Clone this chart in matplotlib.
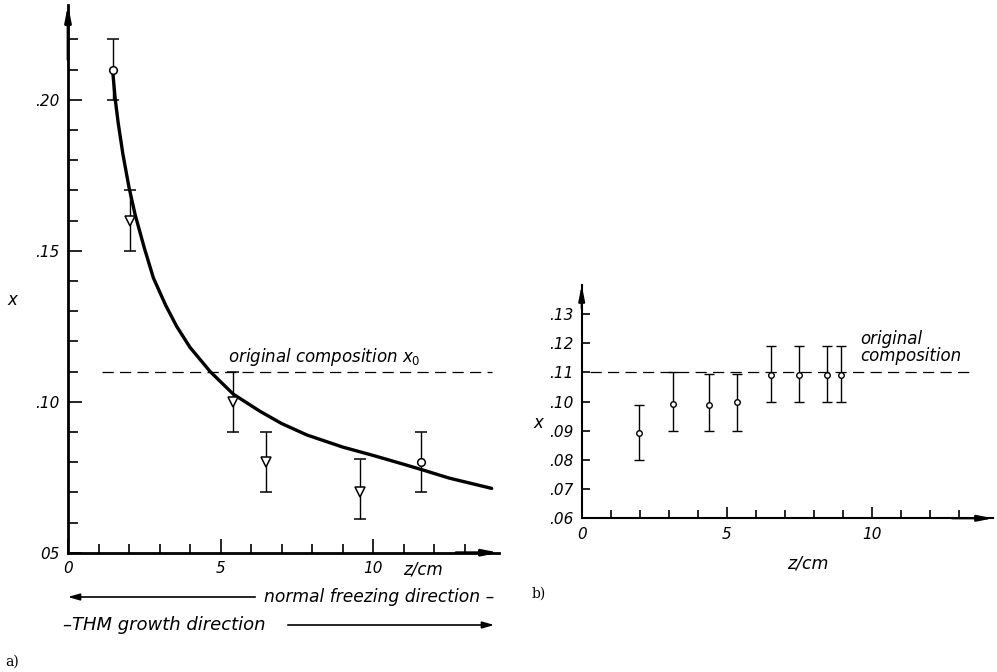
import matplotlib
matplotlib.use("Agg")
import matplotlib.pyplot as plt
from matplotlib.ticker import MultipleLocator, FixedLocator

# panel a) measured points (z in cm, x = mole fraction)
circ_z = [1.47, 11.57]
circ_x = [0.210, 0.080]
circ_lo = [0.200, 0.070]
circ_hi = [0.220, 0.090]

tri_z = [2.03, 5.41, 6.49, 9.57]
tri_x = [0.160, 0.100, 0.080, 0.070]
tri_lo = [0.150, 0.090, 0.070, 0.061]
tri_hi = [0.170, 0.110, 0.090, 0.081]

# fitted curve
curve_z = [1.47, 1.55, 1.65, 1.80, 2.00, 2.20, 2.50, 2.80, 3.20, 3.56, 4.00, 4.66,
           5.42, 6.30, 7.00, 7.83, 9.00, 10.01, 11.00, 11.60, 12.50, 13.89]
curve_x = [0.209, 0.200, 0.192, 0.182, 0.171, 0.162, 0.151, 0.141, 0.132, 0.125, 0.118, 0.110,
           0.1025, 0.0968, 0.0928, 0.0890, 0.0850, 0.0822, 0.0793, 0.0775, 0.0747, 0.0713]

x0 = 0.11

# panel b) measured points
b_z = [1.99, 3.16, 4.39, 5.37, 6.52, 7.49, 8.45, 8.93]
b_x = [0.0892, 0.0992, 0.0990, 0.1000, 0.1090, 0.1090, 0.1092, 0.1090]
b_lo = [0.080, 0.090, 0.090, 0.090, 0.100, 0.100, 0.100, 0.100]
b_hi = [0.099, 0.110, 0.1095, 0.1095, 0.119, 0.119, 0.119, 0.119]

a_yticks = [0.05, 0.10, 0.15, 0.20]
a_ylabels = ["05", ".10", ".15", ".20"]
a_yminor = [0.06, 0.07, 0.08, 0.09, 0.11, 0.12, 0.13, 0.14, 0.16, 0.17, 0.18, 0.19, 0.21, 0.22]
b_yticks = [0.06, 0.07, 0.08, 0.09, 0.10, 0.11, 0.12, 0.13]
b_ylabels = [".06", ".07", ".08", ".09", ".10", ".11", ".12", ".13"]
xticks = [0, 5, 10]
xlabels = ["0", "5", "10"]

W, H = 997, 672
fig = plt.figure(figsize=(W / 100, H / 100), dpi=100)

ital = dict(style="italic", family="DejaVu Sans")


def setup_axes(ax, lw, ymaj, ymin, xmaj, xmin):
    for s in ["top", "right"]:
        ax.spines[s].set_visible(False)
    for s in ["left", "bottom"]:
        ax.spines[s].set_linewidth(lw)
    ax.tick_params(which="both", direction="in", width=1.2)
    ax.tick_params(which="major", pad=6)
    ax.tick_params(axis="y", which="major", length=ymaj)
    ax.tick_params(axis="y", which="minor", length=ymin)
    ax.tick_params(axis="x", which="major", length=xmaj)
    ax.tick_params(axis="x", which="minor", length=xmin)
    ax.xaxis.set_minor_locator(FixedLocator(range(1, 14)))
    # axis arrows
    ax.annotate("", xy=(0, 1.0), xytext=(0, 0.9), xycoords="axes fraction",
                arrowprops=dict(arrowstyle="-|>,head_length=0.9,head_width=0.18",
                                color="k", lw=lw, shrinkA=0, shrinkB=0))
    ax.annotate("", xy=(1.0, 0), xytext=(0.9, 0), xycoords="axes fraction",
                arrowprops=dict(arrowstyle="-|>,head_length=0.9,head_width=0.18",
                                color="k", lw=lw, shrinkA=0, shrinkB=0))
    for lab in ax.get_xticklabels() + ax.get_yticklabels():
        lab.set_fontstyle("italic")
        lab.set_fontsize(11)


# ---------- panel a ----------
axa = fig.add_axes([68 / W, 1 - 552.7 / H, 431 / W, 547.7 / H])
axa.set_xlim(0, 14.13)
axa.set_ylim(0.05, 0.2314)

axa.plot([1.1, 13.9], [x0, x0], color="k", lw=0.9, dashes=(9, 5))
axa.plot(curve_z, curve_x, color="k", lw=2.4, solid_capstyle="round", solid_joinstyle="round")

axa.errorbar(circ_z, circ_x,
             yerr=[[v - l for v, l in zip(circ_x, circ_lo)], [h - v for v, h in zip(circ_x, circ_hi)]],
             fmt="o", ms=5.5, mfc="white", mec="k", mew=1.1, ecolor="k",
             elinewidth=1.0, capsize=4, capthick=1.4, zorder=5)
axa.errorbar(tri_z, tri_x,
             yerr=[[v - l for v, l in zip(tri_x, tri_lo)], [h - v for v, h in zip(tri_x, tri_hi)]],
             fmt="v", ms=7, mfc="white", mec="k", mew=1.1, ecolor="k",
             elinewidth=1.0, capsize=4, capthick=1.4, zorder=5)

axa.set_yticks(a_yticks)
axa.set_yticklabels(a_ylabels)
axa.yaxis.set_minor_locator(FixedLocator(a_yminor))
axa.set_xticks(xticks)
axa.set_xticklabels(xlabels)
setup_axes(axa, 2.0, 10, 7, 10, 6.5)

axa.text(5.25, 0.1148, r"original composition $x_0$", fontsize=12, va="center", **ital)
axa.text(11.65, -0.014, "z/cm", transform=axa.get_xaxis_transform(), fontsize=12,
         ha="center", va="top", **ital)
fig.text(12 / W, 1 - 300 / H, "x", fontsize=12, ha="center", va="center", **ital)

# direction arrows under panel a
fig.add_artist(matplotlib.patches.FancyArrowPatch(
    (258 / W, 1 - 597 / H), (65 / W, 1 - 597 / H), transform=fig.transFigure,
    arrowstyle="-|>,head_length=7,head_width=2", color="k", lw=1.2))
fig.text(264 / W, 1 - 597 / H, "normal freezing direction \u2013", fontsize=12.3,
         va="center", ha="left", **ital)
fig.text(63 / W, 1 - 625 / H, "\u2013THM growth direction", fontsize=13,
         va="center", ha="left", **ital)
fig.add_artist(matplotlib.patches.FancyArrowPatch(
    (285 / W, 1 - 625 / H), (497 / W, 1 - 625 / H), transform=fig.transFigure,
    arrowstyle="-|>,head_length=7,head_width=2", color="k", lw=1.2))
fig.text(5 / W, 1 - 662 / H, "a)", fontsize=10, family="DejaVu Serif", va="center")

# ---------- panel b ----------
axb = fig.add_axes([581.7 / W, 1 - 518.3 / H, 411.3 / W, 233.3 / H])
axb.set_xlim(0, 14.18)
axb.set_ylim(0.06, 0.140)

axb.plot([0.29, 13.4], [x0, x0], color="k", lw=0.9, dashes=(9, 5))
axb.errorbar(b_z, b_x,
             yerr=[[v - l for v, l in zip(b_x, b_lo)], [h - v for v, h in zip(b_x, b_hi)]],
             fmt="o", ms=4, mfc="white", mec="k", mew=1.0, ecolor="k",
             elinewidth=1.0, capsize=3.5, capthick=1.3, zorder=5)

axb.set_yticks(b_yticks)
axb.set_yticklabels(b_ylabels)
axb.set_xticks(xticks)
axb.set_xticklabels(xlabels)
setup_axes(axb, 1.5, 6, 6, 8, 6)

axb.text(9.6, 0.1185, "original\ncomposition", fontsize=12, va="center",
         linespacing=0.95, **ital)
axb.text(7.8, -0.155, "z/cm", transform=axb.get_xaxis_transform(), fontsize=12.5,
         ha="center", va="top", **ital)
fig.text(538 / W, 1 - 423 / H, "x", fontsize=12, ha="center", va="center", **ital)
fig.text(532 / W, 1 - 594 / H, "b)", fontsize=10, family="DejaVu Serif", va="center")

fig.savefig("out.png", dpi=100)
